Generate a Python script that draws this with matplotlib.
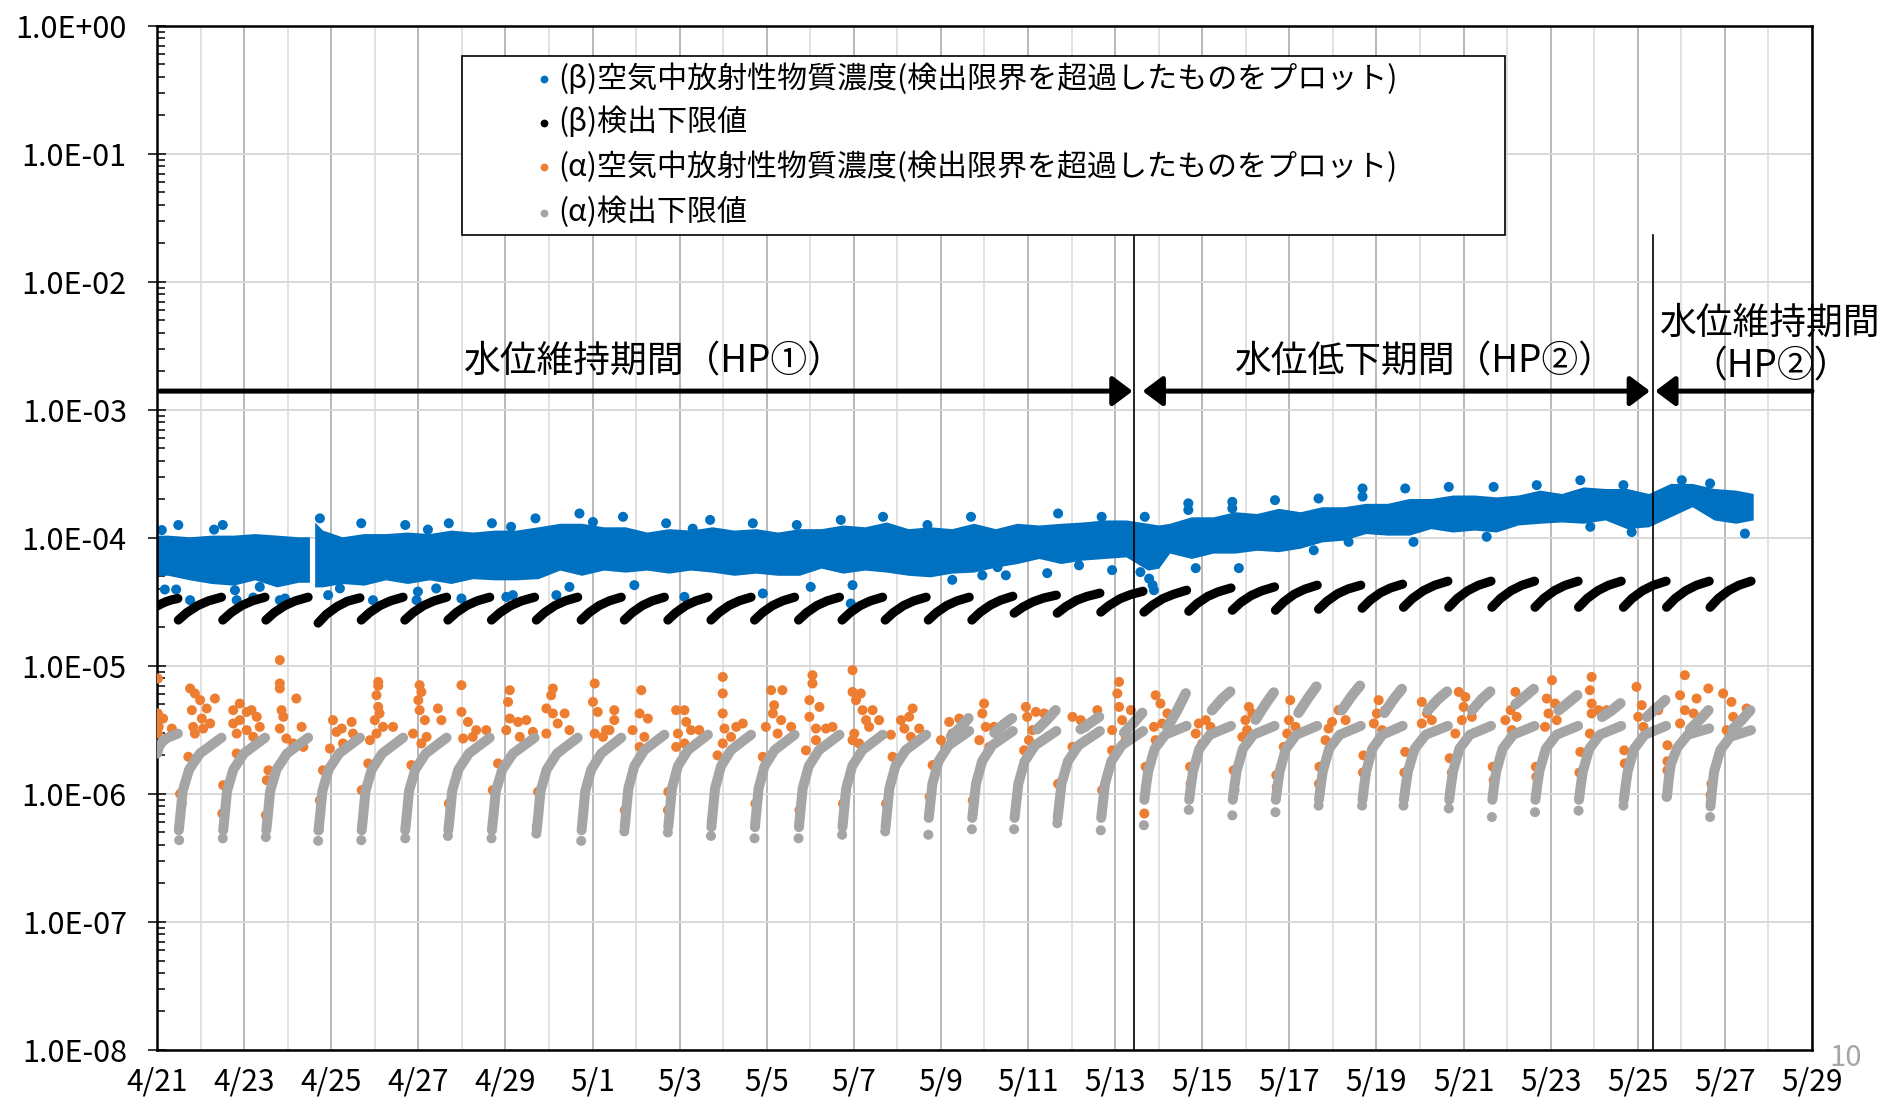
import matplotlib
matplotlib.use("Agg")
import matplotlib.pyplot as plt
from matplotlib.lines import Line2D
from matplotlib.patches import Rectangle
from matplotlib.ticker import LogLocator, NullFormatter, FixedLocator
import numpy as np

plt.rcParams['font.family'] = ['Noto Sans CJK JP', 'DejaVu Sans']

# ---------------- data (day offset from 4/21 00:00) ----------------
x_tick_labels = ["4/21", "4/23", "4/25", "4/27", "4/29", "5/1", "5/3", "5/5", "5/7", "5/9",
                 "5/11", "5/13", "5/15", "5/17", "5/19", "5/21", "5/23", "5/25", "5/27", "5/29"]
y_tick_labels = ["1.0E-08", "1.0E-07", "1.0E-06", "1.0E-05", "1.0E-04", "1.0E-03",
                 "1.0E-02", "1.0E-01", "1.0E+00"]

legend_labels = ["(β)空気中放射性物質濃度(検出限界を超過したものをプロット)",
                 "(β)検出下限値",
                 "(α)空気中放射性物質濃度(検出限界を超過したものをプロット)",
                 "(α)検出下限値"]

# (beta) concentration: dense band envelope (outer edges), two segments
band_a_day = [0.0, 0.25, 0.75, 1.25, 1.75, 2.25, 2.75, 3.25, 3.5]
band_a_hi = [1.05e-4, 1.05e-4, 1.02e-4, 1.05e-4, 1.05e-4, 1.08e-4, 1.05e-4, 1.02e-4, 1.02e-4]
band_a_lo = [5.1e-5, 5.1e-5, 4.7e-5, 4.4e-5, 4.27e-5, 4.7e-5, 4.14e-5, 4.5e-5, 4.5e-5]

band_b_day = [3.62, 3.8, 4.25, 4.75, 5.25, 5.75, 6.25, 6.75, 7.25, 7.75, 8.25, 8.75, 9.25, 9.75,
              10.25, 10.75, 11.25, 11.75, 12.25, 12.75, 13.25, 13.75, 14.25, 14.75, 15.25, 15.75,
              16.25, 16.75, 17.25, 17.75, 18.25, 18.75, 19.25, 19.75, 20.25, 20.75, 21.25, 21.75,
              22.25, 22.75, 23.0, 23.25, 23.75, 24.25, 24.75, 25.25, 25.75, 26.25, 26.75, 27.25,
              27.75, 28.25, 28.75, 29.25, 29.75, 30.25, 30.75, 31.25, 31.75, 32.25, 32.75, 33.25,
              33.75, 34.25, 34.75, 35.25, 35.75, 36.25, 36.65]
band_b_hi = [1.33e-4, 1.15e-4, 1.02e-4, 1.08e-4, 1.08e-4, 1.11e-4, 1.08e-4, 1.15e-4, 1.11e-4,
             1.15e-4, 1.15e-4, 1.22e-4, 1.30e-4, 1.30e-4, 1.22e-4, 1.22e-4, 1.11e-4, 1.18e-4,
             1.15e-4, 1.22e-4, 1.15e-4, 1.18e-4, 1.11e-4, 1.18e-4, 1.18e-4, 1.26e-4, 1.22e-4,
             1.33e-4, 1.18e-4, 1.22e-4, 1.18e-4, 1.30e-4, 1.18e-4, 1.30e-4, 1.26e-4, 1.30e-4,
             1.33e-4, 1.38e-4, 1.38e-4, 1.30e-4, 1.26e-4, 1.30e-4, 1.46e-4, 1.46e-4, 1.60e-4,
             1.55e-4, 1.70e-4, 1.60e-4, 1.75e-4, 1.75e-4, 1.86e-4, 1.86e-4, 2.03e-4, 2.03e-4,
             2.16e-4, 2.16e-4, 2.09e-4, 2.16e-4, 2.36e-4, 2.22e-4, 2.50e-4, 2.43e-4, 2.43e-4,
             2.22e-4, 2.66e-4, 2.66e-4, 2.43e-4, 2.36e-4, 2.22e-4]
band_b_lo = [4.14e-5, 4.14e-5, 4.4e-5, 4.27e-5, 4.7e-5, 4.4e-5, 4.7e-5, 4.4e-5, 4.8e-5, 4.7e-5,
             4.7e-5, 4.8e-5, 5.6e-5, 5.1e-5, 5.6e-5, 5.4e-5, 5.6e-5, 5.3e-5, 5.6e-5, 5.4e-5,
             5.1e-5, 5.3e-5, 5.1e-5, 5.1e-5, 5.8e-5, 5.3e-5, 5.6e-5, 5.4e-5, 5.1e-5, 4.96e-5,
             5.3e-5, 5.4e-5, 5.9e-5, 6.3e-5, 6.9e-5, 6.3e-5, 6.7e-5, 6.9e-5, 7.1e-5, 5.6e-5,
             5.8e-5, 7.6e-5, 6.9e-5, 7.6e-5, 7.6e-5, 8.0e-5, 7.8e-5, 8.3e-5, 9.3e-5, 9.6e-5,
             1.08e-4, 1.05e-4, 1.05e-4, 1.18e-4, 1.11e-4, 1.15e-4, 1.11e-4, 1.26e-4, 1.30e-4,
             1.33e-4, 1.30e-4, 1.38e-4, 1.18e-4, 1.22e-4, 1.46e-4, 1.75e-4, 1.38e-4, 1.30e-4,
             1.38e-4]

# (beta) concentration: individual points standing out of the band
beta_points = [(0.11, 1.15e-4), (0.49, 1.26e-4), (1.31, 1.16e-4), (1.51, 1.26e-4), (3.74, 1.42e-4),
               (4.69, 1.30e-4), (5.70, 1.26e-4), (6.22, 1.16e-4), (6.70, 1.30e-4), (7.69, 1.30e-4),
               (8.13, 1.22e-4), (8.69, 1.42e-4), (9.70, 1.55e-4), (10.01, 1.33e-4), (10.70, 1.46e-4),
               (11.69, 1.30e-4), (12.30, 1.18e-4), (12.70, 1.38e-4), (13.68, 1.30e-4), (14.69, 1.26e-4),
               (15.70, 1.38e-4), (16.67, 1.46e-4), (17.69, 1.26e-4), (18.69, 1.46e-4), (20.69, 1.55e-4),
               (21.69, 1.46e-4), (22.68, 1.46e-4), (23.68, 1.86e-4), (23.68, 1.65e-4), (24.69, 1.91e-4),
               (24.69, 1.70e-4), (25.67, 1.97e-4), (26.67, 2.03e-4), (27.68, 2.43e-4), (27.68, 2.10e-4),
               (28.66, 2.43e-4), (29.66, 2.50e-4), (30.69, 2.50e-4), (31.68, 2.58e-4), (32.68, 2.82e-4),
               (33.67, 2.58e-4), (35.01, 2.82e-4), (35.66, 2.66e-4),
               (0.18, 3.95e-5), (0.44, 3.95e-5), (0.76, 3.26e-5), (1.79, 3.9e-5), (1.83, 3.26e-5),
               (2.21, 3.42e-5), (2.36, 4.14e-5), (2.82, 3.26e-5), (2.94, 3.36e-5), (3.93, 3.57e-5),
               (4.20, 4.03e-5), (4.96, 3.26e-5), (5.96, 3.26e-5), (5.99, 3.8e-5), (6.41, 4.03e-5),
               (6.99, 3.36e-5), (8.02, 3.46e-5), (8.17, 3.57e-5), (9.17, 3.57e-5), (9.47, 4.14e-5),
               (10.96, 4.27e-5), (12.11, 3.46e-5), (13.91, 3.68e-5), (15.01, 4.14e-5), (15.93, 3.07e-5),
               (15.97, 4.27e-5), (18.26, 4.7e-5), (18.95, 5.1e-5), (19.30, 5.9e-5), (19.49, 5.1e-5),
               (20.44, 5.3e-5), (21.17, 6.1e-5), (21.93, 5.6e-5), (22.58, 5.4e-5), (22.78, 4.8e-5),
               (22.86, 4.27e-5), (22.89, 3.9e-5), (23.85, 5.8e-5), (24.84, 5.8e-5), (26.56, 8.0e-5),
               (27.36, 9.3e-5), (28.85, 9.3e-5), (30.53, 1.02e-4), (32.91, 1.22e-4), (33.86, 1.11e-4),
               (36.46, 1.08e-4)]

# sampling cycles (start / end day)
cyc_start = [0.0, 0.49, 1.51, 2.50, 3.70, 4.69, 5.69, 6.68, 7.68, 8.71, 9.74, 10.73, 11.73, 12.72,
             13.72, 14.73, 15.73, 16.72, 17.71, 18.71, 19.68, 20.67, 21.67, 22.66, 23.69, 24.69,
             25.68, 26.67, 27.67, 28.62, 29.66, 30.65, 31.64, 32.64, 33.67, 34.66, 35.66]
cyc_end = [0.48, 1.48, 2.48, 3.47, 4.66, 5.65, 6.65, 7.64, 8.67, 9.66, 10.66, 11.65, 12.65, 13.64,
           14.64, 15.67, 16.66, 17.66, 18.65, 19.65, 20.65, 21.65, 22.64, 23.64, 24.66, 25.66,
           26.64, 27.64, 28.60, 29.64, 30.63, 31.63, 32.63, 33.62, 34.65, 35.64, 36.60]

# (beta) detection limit read at 0, 20, 45, 70, 100 % of each cycle
beta_lim = [
    [2.93e-5, 3.05e-5, 3.18e-5, 3.28e-5, 3.36e-5],
    [2.28e-5, 2.61e-5, 2.96e-5, 3.22e-5, 3.44e-5],
    [2.28e-5, 2.61e-5, 2.96e-5, 3.22e-5, 3.44e-5],
    [2.28e-5, 2.61e-5, 2.96e-5, 3.22e-5, 3.44e-5],
    [2.16e-5, 2.53e-5, 2.90e-5, 3.20e-5, 3.40e-5],
    [2.28e-5, 2.61e-5, 2.96e-5, 3.22e-5, 3.44e-5],
    [2.28e-5, 2.61e-5, 2.96e-5, 3.22e-5, 3.44e-5],
    [2.28e-5, 2.61e-5, 2.96e-5, 3.22e-5, 3.44e-5],
    [2.28e-5, 2.61e-5, 2.96e-5, 3.22e-5, 3.44e-5],
    [2.28e-5, 2.61e-5, 2.96e-5, 3.22e-5, 3.44e-5],
    [2.28e-5, 2.61e-5, 2.96e-5, 3.22e-5, 3.44e-5],
    [2.28e-5, 2.61e-5, 2.96e-5, 3.22e-5, 3.44e-5],
    [2.28e-5, 2.61e-5, 2.96e-5, 3.22e-5, 3.44e-5],
    [2.28e-5, 2.61e-5, 2.96e-5, 3.22e-5, 3.44e-5],
    [2.28e-5, 2.61e-5, 2.96e-5, 3.22e-5, 3.44e-5],
    [2.28e-5, 2.61e-5, 2.96e-5, 3.22e-5, 3.44e-5],
    [2.28e-5, 2.61e-5, 2.96e-5, 3.22e-5, 3.44e-5],
    [2.28e-5, 2.61e-5, 2.96e-5, 3.22e-5, 3.44e-5],
    [2.28e-5, 2.61e-5, 2.96e-5, 3.22e-5, 3.44e-5],
    [2.28e-5, 2.62e-5, 2.98e-5, 3.26e-5, 3.50e-5],
    [2.58e-5, 2.87e-5, 3.17e-5, 3.39e-5, 3.57e-5],
    [2.58e-5, 2.90e-5, 3.25e-5, 3.49e-5, 3.70e-5],
    [2.63e-5, 2.97e-5, 3.34e-5, 3.60e-5, 3.83e-5],
    [2.63e-5, 2.98e-5, 3.36e-5, 3.63e-5, 3.90e-5],
    [2.67e-5, 3.07e-5, 3.49e-5, 3.79e-5, 4.06e-5],
    [2.72e-5, 3.13e-5, 3.55e-5, 3.86e-5, 4.14e-5],
    [2.72e-5, 3.16e-5, 3.63e-5, 3.97e-5, 4.27e-5],
    [2.77e-5, 3.20e-5, 3.66e-5, 3.99e-5, 4.27e-5],
    [2.82e-5, 3.26e-5, 3.72e-5, 4.06e-5, 4.35e-5],
    [2.87e-5, 3.36e-5, 3.87e-5, 4.26e-5, 4.59e-5],
    [2.87e-5, 3.36e-5, 3.87e-5, 4.26e-5, 4.59e-5],
    [2.87e-5, 3.36e-5, 3.87e-5, 4.26e-5, 4.59e-5],
    [2.87e-5, 3.36e-5, 3.87e-5, 4.26e-5, 4.59e-5],
    [2.87e-5, 3.36e-5, 3.87e-5, 4.26e-5, 4.59e-5],
    [2.87e-5, 3.36e-5, 3.87e-5, 4.26e-5, 4.59e-5],
    [2.87e-5, 3.36e-5, 3.87e-5, 4.26e-5, 4.59e-5],
    [2.87e-5, 3.36e-5, 3.87e-5, 4.26e-5, 4.59e-5],
]
beta_lim_frac = [0.0, 0.2, 0.45, 0.7, 1.0]

# (alpha) detection limit, main curve read at 1, 5, 10, 25, 50, 100 % of each cycle
alpha_lim = [
    [2.07e-6, 2.20e-6, 2.35e-6, 2.55e-6, 2.75e-6, 2.96e-6],
    [5.2e-7, 7.0e-7, 1.05e-6, 1.55e-6, 2.07e-6, 2.75e-6],
    [5.2e-7, 7.0e-7, 1.05e-6, 1.55e-6, 2.07e-6, 2.75e-6],
    [5.2e-7, 7.0e-7, 1.05e-6, 1.55e-6, 2.07e-6, 2.75e-6],
    [5.2e-7, 7.0e-7, 1.05e-6, 1.55e-6, 2.07e-6, 2.75e-6],
    [5.2e-7, 7.0e-7, 1.05e-6, 1.55e-6, 2.07e-6, 2.75e-6],
    [5.2e-7, 7.0e-7, 1.05e-6, 1.55e-6, 2.07e-6, 2.75e-6],
    [5.2e-7, 7.0e-7, 1.05e-6, 1.55e-6, 2.07e-6, 2.75e-6],
    [5.2e-7, 7.0e-7, 1.05e-6, 1.55e-6, 2.07e-6, 2.75e-6],
    [5.2e-7, 7.0e-7, 1.05e-6, 1.55e-6, 2.07e-6, 2.75e-6],
    [5.2e-7, 7.0e-7, 1.05e-6, 1.55e-6, 2.07e-6, 2.75e-6],
    [5.5e-7, 7.5e-7, 1.10e-6, 1.65e-6, 2.20e-6, 2.90e-6],
    [5.5e-7, 7.5e-7, 1.10e-6, 1.65e-6, 2.20e-6, 2.90e-6],
    [5.5e-7, 7.5e-7, 1.10e-6, 1.65e-6, 2.20e-6, 2.90e-6],
    [5.5e-7, 7.5e-7, 1.10e-6, 1.65e-6, 2.20e-6, 2.90e-6],
    [5.5e-7, 7.5e-7, 1.10e-6, 1.65e-6, 2.20e-6, 2.90e-6],
    [5.5e-7, 7.5e-7, 1.10e-6, 1.65e-6, 2.20e-6, 2.90e-6],
    [5.5e-7, 7.5e-7, 1.10e-6, 1.65e-6, 2.20e-6, 2.90e-6],
    [6.5e-7, 8.5e-7, 1.20e-6, 1.80e-6, 2.40e-6, 3.10e-6],
    [6.5e-7, 8.5e-7, 1.20e-6, 1.80e-6, 2.40e-6, 3.10e-6],
    [6.5e-7, 8.5e-7, 1.20e-6, 1.80e-6, 2.40e-6, 3.10e-6],
    [6.5e-7, 8.5e-7, 1.20e-6, 1.80e-6, 2.40e-6, 3.10e-6],
    [6.5e-7, 8.5e-7, 1.20e-6, 1.80e-6, 2.40e-6, 3.10e-6],
    [9.0e-7, 1.15e-6, 1.50e-6, 2.25e-6, 2.90e-6, 3.40e-6],
    [9.0e-7, 1.15e-6, 1.50e-6, 2.25e-6, 2.90e-6, 3.40e-6],
    [9.0e-7, 1.15e-6, 1.50e-6, 2.25e-6, 2.90e-6, 3.40e-6],
    [9.0e-7, 1.15e-6, 1.50e-6, 2.25e-6, 2.90e-6, 3.40e-6],
    [9.0e-7, 1.15e-6, 1.50e-6, 2.25e-6, 2.90e-6, 3.40e-6],
    [9.0e-7, 1.15e-6, 1.50e-6, 2.25e-6, 2.90e-6, 3.40e-6],
    [9.0e-7, 1.15e-6, 1.50e-6, 2.25e-6, 2.90e-6, 3.40e-6],
    [9.0e-7, 1.15e-6, 1.50e-6, 2.25e-6, 2.90e-6, 3.40e-6],
    [9.0e-7, 1.15e-6, 1.50e-6, 2.25e-6, 2.90e-6, 3.40e-6],
    [9.0e-7, 1.15e-6, 1.50e-6, 2.25e-6, 2.90e-6, 3.40e-6],
    [9.0e-7, 1.15e-6, 1.50e-6, 2.25e-6, 2.90e-6, 3.40e-6],
    [9.0e-7, 1.15e-6, 1.50e-6, 2.25e-6, 2.90e-6, 3.40e-6],
    [9.5e-7, 1.30e-6, 1.70e-6, 2.30e-6, 2.90e-6, 3.25e-6],
    [8.0e-7, 1.10e-6, 1.50e-6, 2.20e-6, 2.80e-6, 3.15e-6],
]
alpha_lim_frac = [0.01, 0.05, 0.1, 0.25, 0.5, 1.0]

# (alpha) detection limit, upper branch (cycles 18..36) at 55, 78, 98 % of the cycle
alpha_up_cycle = list(range(18, 37))
alpha_up = [
    [2.8e-6, 3.3e-6, 3.9e-6], [3.0e-6, 3.5e-6, 3.9e-6], [3.2e-6, 3.8e-6, 4.5e-6],
    [3.2e-6, 3.6e-6, 4.0e-6], [3.0e-6, 3.6e-6, 4.3e-6], [3.3e-6, 4.5e-6, 6.1e-6],
    [4.5e-6, 5.5e-6, 6.3e-6], [3.8e-6, 5.0e-6, 6.2e-6], [4.3e-6, 5.6e-6, 6.9e-6],
    [4.5e-6, 5.8e-6, 7.0e-6], [4.3e-6, 5.5e-6, 6.6e-6], [4.5e-6, 5.5e-6, 6.3e-6],
    [4.5e-6, 5.5e-6, 6.3e-6], [5.0e-6, 5.8e-6, 6.6e-6], [4.5e-6, 5.2e-6, 5.9e-6],
    [4.0e-6, 4.5e-6, 5.1e-6], [4.0e-6, 4.7e-6, 5.4e-6], [3.2e-6, 3.8e-6, 4.5e-6],
    [3.2e-6, 3.8e-6, 4.5e-6],
]
alpha_up_frac = [0.55, 0.78, 0.98]

# (alpha) detection limit: lowest isolated points at each cycle start
alpha_min = [(0.51, 4.35e-7), (1.51, 4.5e-7), (2.50, 4.6e-7), (3.70, 4.3e-7), (4.69, 4.35e-7),
             (5.70, 4.5e-7), (6.68, 4.7e-7), (7.68, 4.5e-7), (8.71, 4.9e-7), (9.74, 4.3e-7),
             (10.73, 5.1e-7), (11.73, 5.0e-7), (12.72, 4.7e-7), (13.72, 4.5e-7), (14.73, 4.5e-7),
             (15.73, 4.8e-7), (16.72, 5.1e-7), (17.71, 4.8e-7), (18.71, 5.3e-7), (19.68, 5.3e-7),
             (20.67, 5.9e-7), (21.67, 5.2e-7), (22.66, 5.7e-7), (23.69, 7.5e-7), (24.69, 6.8e-7),
             (25.68, 7.2e-7), (26.67, 8.1e-7), (27.67, 8.1e-7), (28.62, 8.1e-7), (29.66, 7.7e-7),
             (30.65, 6.6e-7), (31.64, 7.2e-7), (32.64, 7.4e-7), (33.67, 8.1e-7), (34.66, 9.5e-7),
             (35.66, 6.6e-7)]

# (alpha) concentration above detection limit
alpha_points = [
    (0.02, 7.97e-6), (0.02, 4.25e-6), (0.03, 3.77e-6), (0.04, 3.34e-6), (0.14, 3.88e-6), (0.02, 2.96e-6), (0.34, 3.24e-6),
    (0.76, 6.66e-6), (0.87, 6.09e-6), (0.99, 5.4e-6), (0.80, 4.51e-6), (1.14, 4.65e-6), (1.33, 5.56e-6), (1.03, 3.88e-6),
    (0.83, 3.34e-6), (1.06, 3.24e-6), (1.22, 3.55e-6), (0.87, 2.96e-6), (0.72, 1.95e-6), (0.53, 1.0e-6), (0.57, 8.4e-7),
    (1.75, 4.51e-6), (1.90, 5.08e-6), (2.06, 4.37e-6), (2.17, 4.51e-6), (1.90, 3.77e-6), (2.29, 4.0e-6), (1.75, 3.55e-6),
    (2.06, 3.15e-6), (1.83, 2.96e-6), (2.36, 3.34e-6), (2.21, 2.79e-6), (1.52, 1.17e-6), (1.83, 2.07e-6), (1.50, 7.03e-7),
    (2.82, 1.11e-5), (2.82, 7.29e-6), (2.82, 6.66e-6), (3.20, 5.56e-6), (2.86, 4.51e-6), (2.90, 4.0e-6), (2.82, 3.24e-6),
    (3.32, 3.34e-6), (2.97, 2.71e-6), (3.13, 2.48e-6), (3.36, 2.33e-6), (2.52, 1.28e-6), (2.50, 6.82e-7), (2.56, 1.53e-6),
    (4.04, 3.77e-6), (4.12, 3.05e-6), (3.97, 2.26e-6), (4.47, 3.65e-6), (4.24, 3.24e-6), (4.50, 2.96e-6), (3.81, 1.53e-6),
    (3.74, 8.9e-7), (3.71, 5.2e-7), (4.27, 2.48e-6),
    (5.08, 7.5e-6), (5.08, 7.0e-6), (5.04, 5.9e-6), (5.08, 4.78e-6), (5.11, 4.25e-6), (5.00, 3.77e-6), (5.42, 3.34e-6),
    (5.04, 2.96e-6), (4.85, 1.73e-6), (4.70, 1.07e-6), (4.89, 2.63e-6), (5.19, 3.34e-6),
    (6.03, 7.07e-6), (6.07, 6.26e-6), (6.00, 5.4e-6), (6.03, 4.51e-6), (6.15, 3.77e-6), (6.45, 4.65e-6), (6.53, 3.77e-6),
    (5.88, 2.96e-6), (6.19, 2.79e-6), (6.07, 2.48e-6), (5.84, 1.68e-6),
    (6.99, 7.07e-6), (6.99, 4.37e-6), (7.14, 3.65e-6), (7.33, 3.15e-6), (7.03, 2.71e-6), (7.56, 3.15e-6), (7.25, 2.79e-6),
    (6.70, 8.4e-7),
    (8.10, 6.46e-6), (8.06, 5.23e-6), (8.10, 3.88e-6), (8.29, 3.65e-6), (8.48, 3.77e-6), (8.02, 3.15e-6), (8.63, 3.05e-6),
    (8.33, 2.79e-6), (7.83, 1.73e-6), (7.71, 1.07e-6),
    (9.09, 6.66e-6), (9.05, 5.9e-6), (8.94, 4.65e-6), (9.09, 4.25e-6), (9.36, 4.25e-6), (9.20, 3.55e-6), (8.94, 2.96e-6),
    (9.47, 3.15e-6), (8.75, 1.04e-6), (8.72, 5.52e-7),
    (10.05, 7.29e-6), (10.01, 5.23e-6), (10.12, 4.37e-6), (10.05, 2.96e-6), (10.39, 3.15e-6), (10.24, 2.79e-6),
    (10.50, 4.51e-6), (10.31, 3.15e-6), (10.50, 3.77e-6),
    (10.74, 7.46e-7), (11.12, 6.46e-6), (11.08, 4.25e-6), (11.27, 3.88e-6), (10.92, 3.15e-6), (11.19, 2.79e-6),
    (11.08, 2.33e-6),
    (11.74, 1.04e-6), (11.73, 7.46e-7), (11.92, 4.51e-6), (12.11, 4.51e-6), (12.15, 3.65e-6), (11.96, 2.96e-6),
    (12.26, 3.15e-6), (11.92, 2.33e-6), (12.45, 3.15e-6), (12.11, 2.48e-6),
    (12.99, 8.2e-6), (12.99, 6.09e-6), (12.99, 4.25e-6), (13.03, 3.24e-6), (13.30, 3.34e-6), (13.45, 3.55e-6),
    (13.18, 2.79e-6), (12.99, 2.48e-6), (12.87, 2.0e-6), (12.74, 6.23e-7),
    (14.10, 6.46e-6), (14.36, 6.46e-6), (14.17, 4.93e-6), (14.14, 4.25e-6), (13.98, 3.34e-6), (14.33, 3.77e-6),
    (14.25, 2.96e-6), (14.56, 3.34e-6), (13.91, 1.95e-6), (13.74, 8.4e-7),
    (15.05, 8.46e-6), (15.05, 7.29e-6), (14.98, 5.4e-6), (15.21, 4.78e-6), (14.98, 4.0e-6), (15.13, 3.24e-6),
    (15.36, 3.24e-6), (15.51, 3.34e-6), (14.90, 2.19e-6), (15.13, 2.63e-6), (14.75, 7.46e-7),
    (15.97, 9.26e-6), (15.97, 6.26e-6), (16.16, 6.09e-6), (16.05, 5.4e-6), (16.20, 4.51e-6), (16.43, 4.51e-6),
    (16.28, 3.77e-6), (16.58, 3.77e-6), (16.01, 2.96e-6), (16.12, 2.48e-6), (16.35, 3.34e-6), (15.75, 8.4e-7),
    (15.97, 2.63e-6),
    (17.08, 3.77e-6), (17.35, 4.65e-6), (17.27, 4.0e-6), (17.16, 3.24e-6), (16.85, 2.9e-6), (17.31, 2.79e-6),
    (17.50, 3.24e-6), (16.89, 1.95e-6), (16.74, 8.4e-7),
    (18.19, 3.65e-6), (18.42, 3.88e-6), (18.00, 2.63e-6), (18.11, 2.33e-6), (17.81, 1.68e-6), (17.74, 9.5e-7),
    (18.26, 2.96e-6),
    (18.99, 5.08e-6), (18.95, 4.25e-6), (19.03, 3.34e-6), (18.88, 2.63e-6), (19.22, 3.34e-6), (19.49, 3.55e-6),
    (18.73, 8.9e-7), (19.11, 2.33e-6),
    (19.95, 4.78e-6), (20.18, 4.37e-6), (19.98, 4.0e-6), (20.37, 4.25e-6), (20.02, 2.63e-6), (19.91, 2.19e-6),
    (20.10, 3.15e-6),
    (21.02, 4.0e-6), (21.21, 3.77e-6), (21.32, 3.34e-6), (21.02, 2.33e-6), (20.69, 1.2e-6), (21.59, 4.51e-6),
    (22.09, 7.5e-6), (22.05, 6.09e-6), (22.09, 4.78e-6), (22.16, 3.77e-6), (21.93, 3.15e-6), (22.36, 4.51e-6),
    (21.93, 2.19e-6), (22.24, 2.63e-6), (21.70, 1.07e-6),
    (22.93, 5.9e-6), (23.04, 5.08e-6), (22.89, 3.34e-6), (23.08, 3.55e-6), (23.20, 4.25e-6), (22.93, 2.63e-6),
    (22.70, 1.63e-6), (22.67, 7.03e-7),
    (23.92, 3.55e-6), (24.08, 3.77e-6), (23.85, 2.96e-6), (24.19, 3.34e-6), (24.00, 2.48e-6), (23.72, 1.63e-6),
    (23.73, 1.2e-6),
    (25.07, 4.78e-6), (24.99, 3.77e-6), (25.15, 4.25e-6), (24.92, 2.79e-6), (25.03, 3.15e-6), (24.72, 1.53e-6),
    (24.74, 1.07e-6),
    (26.02, 5.4e-6), (25.99, 3.77e-6), (25.95, 2.96e-6), (26.14, 3.34e-6), (25.87, 2.33e-6), (25.70, 1.4e-6),
    (25.71, 1.13e-6),
    (27.13, 4.51e-6), (26.98, 3.65e-6), (26.90, 3.24e-6), (27.29, 3.77e-6), (26.83, 2.63e-6), (26.69, 1.63e-6),
    (26.68, 1.2e-6),
    (28.05, 5.4e-6), (28.01, 4.25e-6), (27.94, 3.55e-6), (28.20, 4.51e-6), (28.13, 3.15e-6), (27.70, 2.0e-6),
    (27.69, 1.47e-6),
    (29.04, 5.23e-6), (29.16, 4.25e-6), (29.04, 3.55e-6), (29.27, 3.77e-6), (28.66, 2.13e-6), (28.64, 1.47e-6),
    (29.89, 6.26e-6), (30.04, 5.72e-6), (30.00, 4.78e-6), (29.96, 3.77e-6), (30.19, 4.0e-6), (29.81, 2.96e-6),
    (29.68, 1.9e-6), (29.73, 1.47e-6),
    (31.19, 6.26e-6), (31.08, 4.51e-6), (30.96, 3.77e-6), (31.22, 4.0e-6), (31.11, 3.15e-6), (30.67, 1.63e-6),
    (30.69, 1.28e-6),
    (32.03, 7.73e-6), (31.91, 5.56e-6), (32.10, 5.08e-6), (31.95, 4.25e-6), (32.14, 3.77e-6), (31.87, 3.34e-6),
    (31.66, 1.63e-6), (31.67, 1.36e-6),
    (32.94, 8.2e-6), (32.90, 6.46e-6), (32.94, 4.25e-6), (32.68, 2.13e-6), (32.66, 1.47e-6), (33.10, 4.51e-6),
    (33.29, 4.51e-6), (32.90, 2.96e-6), (32.94, 5.08e-6),
    (33.97, 6.86e-6), (34.09, 4.93e-6), (34.01, 4.0e-6), (34.13, 3.34e-6), (34.47, 4.51e-6), (33.69, 2.19e-6),
    (33.70, 1.73e-6),
    (35.08, 8.46e-6), (34.97, 5.9e-6), (35.35, 5.56e-6), (35.08, 4.51e-6), (35.28, 4.25e-6), (34.97, 3.55e-6),
    (34.68, 2.4e-6), (34.68, 1.8e-6), (34.68, 1.53e-6), (35.62, 6.66e-6),
    (35.96, 6.09e-6), (36.15, 5.23e-6), (36.19, 4.0e-6), (36.50, 4.65e-6), (36.04, 3.15e-6), (35.69, 1.2e-6),
    (35.67, 9.8e-7),
]

# period annotations
period_texts = ["水位維持期間（HP①）", "水位低下期間（HP②）", "水位維持期間\n（HP②）"]
period_split_days = [22.44, 34.34]

# ---------------- styling ----------------
BLUE = '#0070C0'
ORANGE = '#ED7D31'
GRAY = '#A5A5A5'
BLACK = '#000000'
W, H = 1886, 1106
DOT = 52

fig = plt.figure(figsize=(W / 100, H / 100), dpi=100)
ax_l, ax_r, ax_t, ax_b = 157, 1812, 25.7, 1050
ax = fig.add_axes([ax_l / W, 1 - ax_b / H, (ax_r - ax_l) / W, (ax_b - ax_t) / H])
ax.set_yscale('log')
ax.set_ylim(1e-8, 1)
ax.set_xlim(0, 38)

# grid
ax.set_xticks(np.arange(0, 39, 2))
ax.set_xticklabels(x_tick_labels)
ax.xaxis.set_minor_locator(FixedLocator(np.arange(1, 38, 2)))
ax.set_yticks([10.0 ** k for k in range(-8, 1)])
ax.set_yticklabels(y_tick_labels)
ax.yaxis.set_minor_locator(LogLocator(base=10, subs=np.arange(2, 10), numticks=30))
ax.yaxis.set_minor_formatter(NullFormatter())
ax.grid(which='major', axis='x', color='#A6A6A6', lw=1.1, zorder=0)
ax.grid(which='minor', axis='x', color='#D9D9D9', lw=1.1, zorder=0)
ax.grid(which='major', axis='y', color='#D9D9D9', lw=1.4, zorder=0)
ax.set_axisbelow(True)

ax.tick_params(axis='x', which='both', length=0, labelsize=21.5, pad=12)
ax.tick_params(axis='y', which='major', direction='inout', length=13.5, width=1.1,
               labelsize=22, pad=15)
ax.tick_params(axis='y', which='minor', direction='in', length=6, width=1.1)
for s in ax.spines.values():
    s.set_linewidth(1.8)
    s.set_color('black')

# (beta) concentration
ax.fill_between(band_a_day, band_a_lo, band_a_hi, color=BLUE, lw=0, zorder=2)
ax.fill_between(band_b_day, band_b_lo, band_b_hi, color=BLUE, lw=0, zorder=2)
ax.scatter([p[0] for p in beta_points], [p[1] for p in beta_points], s=DOT, color=BLUE,
           edgecolors='none', zorder=2)

# (beta) detection limit
for s0, s1, vals in zip(cyc_start, cyc_end, beta_lim):
    xs = [s0 + f * (s1 - s0) for f in beta_lim_frac]
    ax.plot(xs, vals, color=BLACK, lw=6.6, solid_capstyle='round', solid_joinstyle='round', zorder=3)

# (alpha) concentration
ax.scatter([p[0] for p in alpha_points], [p[1] for p in alpha_points], s=DOT, color=ORANGE,
           edgecolors='none', zorder=4)

# (alpha) detection limit
for s0, s1, vals in zip(cyc_start, cyc_end, alpha_lim):
    xs = [s0 + f * (s1 - s0) for f in alpha_lim_frac]
    ax.plot(xs, vals, color=GRAY, lw=7.2, solid_capstyle='round', solid_joinstyle='round', zorder=5)
for ci, vals in zip(alpha_up_cycle, alpha_up):
    s0, s1 = cyc_start[ci], cyc_end[ci]
    xs = [s0 + f * (s1 - s0) for f in alpha_up_frac]
    ax.plot(xs, vals, color=GRAY, lw=7.5, solid_capstyle='round', solid_joinstyle='round', zorder=5)
ax.scatter([p[0] for p in alpha_min], [p[1] for p in alpha_min], s=DOT, color=GRAY,
           edgecolors='none', zorder=5)

# period separators, arrows, texts
vl_top = 1 - (234.5 - ax_t) / (ax_b - ax_t)
for d in period_split_days:
    ax.axvline(d, ymin=0, ymax=vl_top, color='black', lw=1.2, zorder=6)

y_arrow = 1.4e-3
aprops = dict(color='black', lw=3.6, shrinkA=0, shrinkB=0, mutation_scale=30)
ax.annotate('', xy=(22.40, y_arrow), xytext=(0.07, y_arrow),
            arrowprops=dict(arrowstyle='-|>,head_length=0.4,head_width=0.3', **aprops), zorder=6)
ax.annotate('', xy=(34.28, y_arrow), xytext=(22.63, y_arrow),
            arrowprops=dict(arrowstyle='<|-|>,head_length=0.4,head_width=0.3', **aprops), zorder=6)
ax.annotate('', xy=(34.40, y_arrow), xytext=(38.0, y_arrow),
            arrowprops=dict(arrowstyle='-|>,head_length=0.4,head_width=0.3', **aprops), zorder=6)

ax.text(11.41, 2.36e-3, period_texts[0], ha='center', va='center', fontsize=26.5, zorder=7)
ax.text(29.12, 2.36e-3, period_texts[1], ha='center', va='center', fontsize=26.5, zorder=7)
ax.text(37.05, 3.20e-3, period_texts[2], ha='center', va='center', fontsize=26.5,
        linespacing=1.15, multialignment='center', zorder=7)

# legend (drawn as a framed box)
lx0, lx1, ly0, ly1 = 462, 1505, 56.5, 234.5
fig.add_artist(Rectangle((lx0 / W, 1 - ly1 / H), (lx1 - lx0) / W, (ly1 - ly0) / H,
                         transform=fig.transFigure, facecolor='white', edgecolor='black',
                         lw=1.2, zorder=8))
row_y = [79, 122.5, 167, 212.5]
row_col = [BLUE, BLACK, ORANGE, GRAY]
for yy, col, lab in zip(row_y, row_col, legend_labels):
    fig.add_artist(Line2D([544 / W], [1 - yy / H], marker='o', ms=4.6, color=col, lw=0,
                          transform=fig.transFigure, zorder=9))
    fig.text(558 / W, 1 - yy / H, lab, ha='left', va='center', fontsize=21.6, zorder=9)

# page number
fig.text(1846 / W, 1 - 1058 / H, "10", ha='center', va='center', fontsize=21, color='#A6A6A6')

fig.savefig('out.png', dpi=100)
